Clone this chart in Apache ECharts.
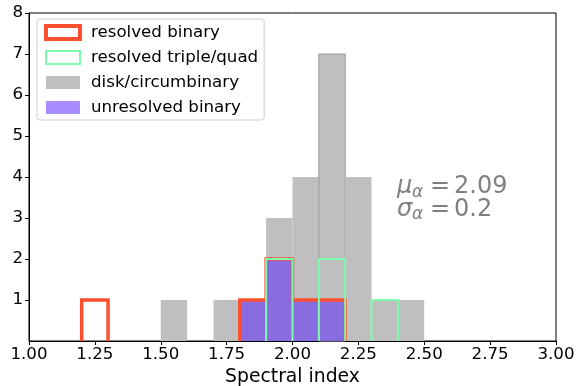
<!DOCTYPE html>
<html>
<head>
<meta charset="utf-8">
<script src="https://cdn.jsdelivr.net/npm/echarts@6/dist/echarts.min.js"></script>
<style>html,body{margin:0;padding:0;background:#fff}#c{width:576px;height:386px}</style>
</head>
<body>
<div id="c"></div>
<script>
// ---- data ----
const binLefts = [1.2, 1.3, 1.4, 1.5, 1.6, 1.7, 1.8, 1.9, 2.0, 2.1, 2.2, 2.3, 2.4];
const binWidth = 0.1;
const diskCircumbinary = [0, 0, 0, 1, 0, 1, 1, 3, 4, 7, 4, 1, 1];
const unresolvedBinary = [0, 0, 0, 0, 0, 0, 1, 2, 1, 1, 0, 0, 0];
const resolvedBinary   = [1, 0, 0, 0, 0, 0, 1, 2, 1, 1, 0, 0, 0];
const resolvedTriple   = [0, 0, 0, 0, 0, 0, 0, 2, 0, 2, 0, 1, 0];
const xTicks = [1.00, 1.25, 1.50, 1.75, 2.00, 2.25, 2.50, 2.75, 3.00];
const yTicks = [1, 2, 3, 4, 5, 6, 7, 8];
const statMu = '2.09';
const statSigma = '0.2';

const FONT = 'DejaVu Sans';
const RED = '#fc4f30';
const GREEN = '#7dfcb0';
const GRAY = '#bfbfbf';
const PURPLE = 'rgba(83,25,255,0.5)';
const FS = 16.67;

function barData(counts) {
  return binLefts.map((l, i) => [l, l + binWidth, counts[i]]).filter(d => d[2] > 0);
}
// step outline runs (histtype='step'), broken where counts are zero
function stepRuns(counts) {
  const runs = [];
  let cur = null;
  binLefts.forEach((l, i) => {
    const c = counts[i];
    if (c > 0) {
      if (!cur) { cur = [[l, 0]]; }
      cur.push([l, c], [l + binWidth, c]);
    } else if (cur) {
      cur.push([l, 0]); runs.push(cur); cur = null;
    }
  });
  if (cur) { const last = binLefts[binLefts.length - 1] + binWidth; cur.push([last, 0]); runs.push(cur); }
  return runs;
}
const diskMax = Math.max(...diskCircumbinary);
function barSeries(name, counts, color, z, edgeForMax) {
  return {
    name, type: 'custom', z,
    data: barData(counts),
    encode: { x: [0, 1], y: 2 },
    renderItem: function (params, api) {
      const p0 = api.coord([api.value(0), api.value(2)]);
      const p1 = api.coord([api.value(1), 0]);
      const edge = edgeForMax && api.value(2) === diskMax;
      return {
        type: 'rect',
        shape: { x: p0[0], y: p0[1], width: p1[0] - p0[0], height: p1[1] - p0[1] },
        style: { fill: color, stroke: edge ? '#9a9a9a' : null, lineWidth: edge ? 1 : 0 }
      };
    }
  };
}
function stepSeries(name, counts, color, width, z) {
  return stepRuns(counts).map(run => ({
    name, type: 'line', z, data: run, showSymbol: false, symbol: 'none', animation: false,
    itemStyle: { color },
    lineStyle: { color, width, join: 'miter', cap: 'butt' }
  }));
}

const chart = echarts.init(document.getElementById('c'), null, { renderer: 'canvas' });
chart.setOption({
  animation: false,
  textStyle: { fontFamily: FONT },
  grid: { left: 29, right: 20, top: 13, bottom: 45, containLabel: false, outerBoundsMode: 'none',
          show: true, borderColor: '#000', borderWidth: 1, backgroundColor: 'transparent' },
  xAxis: {
    type: 'value', min: xTicks[0], max: xTicks[xTicks.length - 1], interval: 0.25,
    name: 'Spectral index', nameLocation: 'middle', nameGap: 24,
    nameTextStyle: { fontSize: 18.8, color: '#000', fontFamily: FONT },
    axisLine: { lineStyle: { color: '#000', width: 1 } },
    axisTick: { show: true, length: 4, lineStyle: { color: '#000' } },
    axisLabel: { fontSize: FS, color: '#000', fontFamily: FONT, margin: 5, formatter: v => v.toFixed(2) },
    splitLine: { show: false }
  },
  yAxis: {
    type: 'value', min: 0, max: yTicks[yTicks.length - 1], interval: 1,
    axisLine: { show: true, lineStyle: { color: '#000', width: 1 } },
    axisTick: { show: true, length: 4, lineStyle: { color: '#000' } },
    axisLabel: { fontSize: FS, color: '#000', fontFamily: FONT, margin: 6, showMinLabel: false },
    splitLine: { show: false }
  },
  legend: {
    orient: 'vertical', left: 37, top: 19,
    itemWidth: 34, itemHeight: 13, itemGap: 8,
    padding: [5, 6, 4, 7],
    backgroundColor: 'rgba(255,255,255,0.8)', borderColor: '#cccccc', borderWidth: 1, borderRadius: 3,
    textStyle: { fontSize: FS, color: '#000', fontFamily: FONT, padding: [0, 0, 0, 6] },
    data: [
      { name: 'resolved binary', icon: 'rect', itemStyle: { color: 'rgba(0,0,0,0)', borderColor: RED, borderWidth: 4 } },
      { name: 'resolved triple/quad', icon: 'rect', itemStyle: { color: 'rgba(0,0,0,0)', borderColor: GREEN, borderWidth: 2 } },
      { name: 'disk/circumbinary', icon: 'rect', itemStyle: { color: GRAY, borderWidth: 0 } },
      { name: 'unresolved binary', icon: 'rect', itemStyle: { color: PURPLE, borderWidth: 0 } }
    ]
  },
  graphic: [
    { type: 'text', left: 397, top: 175, z: 100, style: { text: 'μ', fill: '#808080', font: 'italic 24px "DejaVu Sans"' } },
    { type: 'text', left: 412, top: 184, z: 100, style: { text: 'α', fill: '#808080', font: 'italic 17px "DejaVu Sans"' } },
    { type: 'text', left: 430, top: 175, z: 100, style: { text: '=', fill: '#808080', font: '24px "DejaVu Sans"' } },
    { type: 'text', left: 454, top: 175, z: 100, style: { text: statMu, fill: '#808080', font: '24px "DejaVu Sans"' } },
    { type: 'text', left: 397, top: 198, z: 100, style: { text: 'σ', fill: '#808080', font: 'italic 24px "DejaVu Sans"' } },
    { type: 'text', left: 412, top: 206, z: 100, style: { text: 'α', fill: '#808080', font: 'italic 17px "DejaVu Sans"' } },
    { type: 'text', left: 430, top: 198, z: 100, style: { text: '=', fill: '#808080', font: '24px "DejaVu Sans"' } },
    { type: 'text', left: 454, top: 198, z: 100, style: { text: statSigma, fill: '#808080', font: '24px "DejaVu Sans"' } }
  ],
  series: [
    barSeries('disk/circumbinary', diskCircumbinary, GRAY, 1, true),
    barSeries('unresolved binary', unresolvedBinary, PURPLE, 2, false),
    ...stepSeries('resolved binary', resolvedBinary, RED, 3.5, 3),
    ...stepSeries('resolved triple/quad', resolvedTriple, GREEN, 2, 4)
  ]
});
</script>
</body>
</html>
